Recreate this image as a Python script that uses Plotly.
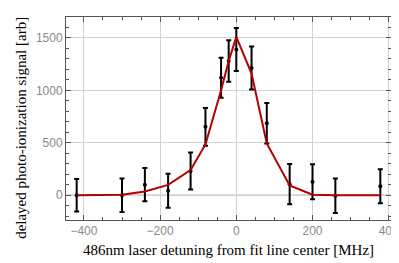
import plotly.graph_objects as go

# measured data
detuning = [-419, -300, -240, -179, -120, -81, -40, -20, 0, 40, 80, 140, 200, 260, 378]
signal = [0, 0, 100, 42, 231, 652, 1120, 1280, 1390, 1213, 687, 105, 128, -5, 85]
signal_err = [155, 160, 158, 163, 177, 180, 190, 198, 205, 205, 193, 192, 167, 165, 163]

# fit curve (sampled at data detunings)
fit_x = [-419, -300, -240, -179, -120, -81, -40, -20, 0, 40, 80, 140, 200, 260, 378]
fit_y = [0, 3, 35, 98, 240, 484, 1000, 1280, 1510, 1160, 494, 92, 5, 0, 0]

x_ticks = [-400, -200, 0, 200, 400]
y_ticks = [0, 500, 1000, 1500]

fig = go.Figure()
fig.add_trace(go.Scatter(
    x=detuning, y=signal, mode="markers",
    marker=dict(color="black", size=4),
    error_y=dict(type="data", array=signal_err, visible=True,
                 color="black", thickness=2, width=2.5),
    showlegend=False,
))
fig.add_trace(go.Scatter(
    x=fit_x, y=fit_y, mode="lines",
    line=dict(color="#b40000", width=2),
    showlegend=False,
))

tickfont = dict(family="Liberation Sans, Arial, sans-serif", size=12, color="#8a8a8a")
titlefont = dict(family="Liberation Serif, Times New Roman, serif", size=15, color="black")

axis_common = dict(
    showline=True, linecolor="#555555", linewidth=1, mirror="ticks",
    ticks="inside", ticklen=5, tickcolor="#555555", tickwidth=1,
    showgrid=True, gridcolor="#d2d2d2", gridwidth=1,
    tickfont=tickfont, zeroline=False,
)

fig.update_xaxes(
    range=[-447, 406], tickvals=x_ticks,
    minor=dict(dtick=50, tick0=0, ticks="inside", ticklen=3, tickcolor="#555555", showgrid=False),
    title=dict(text="486nm laser detuning from fit line center [MHz]", font=titlefont, standoff=7),
    **axis_common,
)
fig.update_yaxes(
    range=[-237, 1700], tickvals=y_ticks,
    minor=dict(dtick=100, tick0=0, ticks="inside", ticklen=3, tickcolor="#555555", showgrid=False),
    **axis_common,
)
fig.add_hline(y=0, line=dict(color="#9a9a9a", width=1), layer="below")

fig.add_annotation(
    text="delayed photo-ionization signal [arb]", textangle=-90,
    xref="paper", yref="paper", x=-0.139, y=0.453,
    xanchor="center", yanchor="middle", showarrow=False, font=titlefont,
)

fig.update_layout(
    width=399, height=263,
    margin=dict(l=58, r=10, t=8, b=51),
    plot_bgcolor="white", paper_bgcolor="white",
)

fig.write_html("out.html")
